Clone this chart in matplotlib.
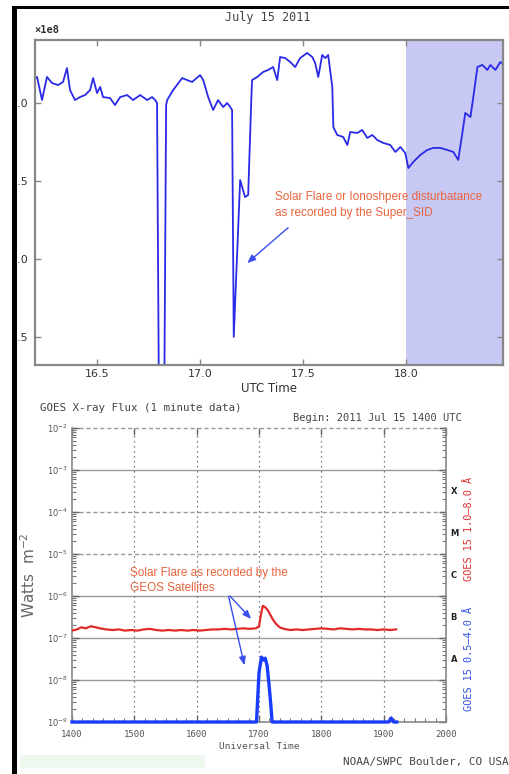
import numpy as np
import matplotlib
matplotlib.use("Agg")
import matplotlib.pyplot as plt
from matplotlib.patches import Rectangle
from matplotlib.ticker import LogLocator, NullFormatter, MultipleLocator

# ---------------- data: Super_SID signal (x 1e8) ----------------
sid_time = [16.200, 16.210, 16.234, 16.258, 16.283, 16.312, 16.336, 16.355, 16.370, 16.394,
            16.418, 16.443, 16.467, 16.482, 16.501, 16.516, 16.530, 16.564, 16.588, 16.613,
            16.647, 16.676, 16.710, 16.744, 16.768, 16.783, 16.792, 16.802, 16.826, 16.836,
            16.841, 16.870, 16.914, 16.938, 16.962, 17.001, 17.016, 17.040, 17.064, 17.088,
            17.098, 17.113, 17.132, 17.147, 17.156, 17.164, 17.195, 17.219, 17.234, 17.249,
            17.253, 17.278, 17.307, 17.331, 17.355, 17.375, 17.389, 17.414, 17.438, 17.462,
            17.486, 17.520, 17.545, 17.559, 17.574, 17.593, 17.608, 17.622, 17.642, 17.647,
            17.666, 17.695, 17.715, 17.729, 17.763, 17.787, 17.812, 17.836, 17.860, 17.889,
            17.923, 17.948, 17.972, 17.996, 18.011, 18.035, 18.069, 18.103, 18.132, 18.166,
            18.200, 18.229, 18.253, 18.273, 18.287, 18.312, 18.326, 18.346, 18.370, 18.394,
            18.409, 18.433, 18.457, 18.472]
sid_signal = [3.160, 3.167, 3.019, 3.167, 3.128, 3.115, 3.135, 3.224, 3.083, 3.019,
              3.038, 3.051, 3.083, 3.160, 3.064, 3.103, 3.038, 3.032, 2.987, 3.038,
              3.051, 3.019, 3.051, 3.019, 3.038, 3.019, 3.000, 0.900, 0.900, 2.987,
              3.019, 3.083, 3.160, 3.147, 3.135, 3.179, 3.147, 3.038, 2.955, 3.019,
              3.000, 2.974, 3.000, 2.974, 2.955, 1.500, 2.506, 2.397, 2.410, 3.019,
              3.147, 3.167, 3.199, 3.212, 3.231, 3.147, 3.295, 3.288, 3.263, 3.231,
              3.288, 3.321, 3.295, 3.256, 3.167, 3.308, 3.288, 3.308, 3.103, 2.846,
              2.795, 2.782, 2.731, 2.814, 2.808, 2.827, 2.776, 2.795, 2.763, 2.744,
              2.731, 2.686, 2.718, 2.679, 2.583, 2.622, 2.667, 2.699, 2.712, 2.712,
              2.699, 2.686, 2.635, 2.808, 2.936, 2.910, 3.038, 3.231, 3.244, 3.212,
              3.244, 3.212, 3.263, 3.244]
sid_xticks = [16.5, 17.0, 17.5, 18.0]
sid_yticks = [1.5, 2.0, 2.5, 3.0]
night_start = 18.0

# ---------------- data: GOES X-ray flux ----------------
long_time = [14.00, 14.08, 14.15, 14.22, 14.30, 14.38, 14.45, 14.55, 14.65, 14.75,
             14.85, 14.95, 15.05, 15.15, 15.25, 15.35, 15.45, 15.55, 15.65, 15.75,
             15.85, 15.95, 16.05, 16.15, 16.25, 16.35, 16.45, 16.55, 16.65, 16.75,
             16.85, 16.95, 17.00, 17.03, 17.06, 17.10, 17.14, 17.18, 17.22, 17.27,
             17.33, 17.40, 17.50, 17.60, 17.70, 17.80, 17.90, 18.00, 18.10, 18.20,
             18.30, 18.40, 18.50, 18.60, 18.70, 18.80, 18.90, 19.00, 19.10, 19.20]
long_flux = [1.5e-7, 1.6e-7, 1.8e-7, 1.7e-7, 1.9e-7, 1.8e-7, 1.7e-7, 1.6e-7, 1.55e-7, 1.6e-7,
             1.5e-7, 1.55e-7, 1.5e-7, 1.6e-7, 1.65e-7, 1.55e-7, 1.5e-7, 1.55e-7, 1.5e-7, 1.55e-7,
             1.5e-7, 1.55e-7, 1.5e-7, 1.55e-7, 1.6e-7, 1.6e-7, 1.65e-7, 1.6e-7, 1.65e-7, 1.7e-7,
             1.65e-7, 1.7e-7, 1.9e-7, 3.5e-7, 5.8e-7, 5.4e-7, 4.6e-7, 3.6e-7, 2.8e-7, 2.2e-7,
             1.8e-7, 1.65e-7, 1.55e-7, 1.6e-7, 1.55e-7, 1.6e-7, 1.65e-7, 1.7e-7, 1.65e-7, 1.6e-7,
             1.7e-7, 1.65e-7, 1.6e-7, 1.65e-7, 1.6e-7, 1.6e-7, 1.55e-7, 1.6e-7, 1.55e-7, 1.6e-7]
short_time = [14.00, 15.00, 16.00, 16.96, 17.00, 17.04, 17.07, 17.10, 17.13, 17.16,
              17.19, 17.21, 18.00, 19.08, 19.12, 19.16, 19.21]
short_flux = [1e-9, 1e-9, 1e-9, 1e-9, 1.5e-8, 3.5e-8, 3.0e-8, 3.3e-8, 2.2e-8, 8e-9,
              2.5e-9, 1e-9, 1e-9, 1e-9, 1.25e-9, 1e-9, 1e-9]
goes_hours = [14, 15, 16, 17, 18, 19, 20]
goes_hour_labels = ["1400", "1500", "1600", "1700", "1800", "1900", "2000"]
solid_levels = [1e-3, 1e-6, 1e-7, 1e-8]
dashed_levels = [1e-2, 1e-4, 1e-5]
class_letters = ["X", "M", "C", "B", "A"]
class_centers = [10**-3.5, 10**-4.5, 10**-5.5, 10**-6.5, 10**-7.5]

W, H = 509, 774
def fx(x):
    return x / W
def fy(y):
    return 1 - y / H

fig = plt.figure(figsize=(W / 100, H / 100), dpi=100)
fig.patch.set_facecolor("white")

MONO = "DejaVu Sans Mono"
ARIAL = ["Liberation Sans", "DejaVu Sans"]

# ================= top panel =================
ax1 = fig.add_axes([fx(35), fy(365), fx(503) - fx(35), fy(40) - fy(365)])
ax1.axvspan(night_start, 18.47, color="#c8c8f5", lw=0, zorder=0)
ax1.plot(sid_time, sid_signal, color="#2a2ae6", lw=1.3, zorder=2)
ax1.set_xlim(16.2, 18.47)
ax1.set_ylim(1.32, 3.404)
ax1.set_xticks(sid_xticks)
ax1.set_yticks(sid_yticks)
ax1.set_xticklabels([f"{v:.1f}" for v in sid_xticks])
ax1.set_yticklabels([f"{v:.1f}" for v in sid_yticks])
ax1.tick_params(direction="in", length=4, width=1, color="#888888",
                labelsize=8, labelcolor="#333333", top=True, right=True, pad=3)
ax1.tick_params(axis="y", pad=5)
for s in ax1.spines.values():
    s.set_color("#888888")
    s.set_linewidth(1.6)
ax1.set_xlabel("UTC Time", fontsize=8.5, color="#333333", labelpad=2)
fig.text(fx(268), fy(17), "July 15 2011", fontsize=8.5, family=MONO,
         color="#444444", ha="center", va="center")
fig.text(fx(34), fy(30), "×1e8", fontsize=7.5, family=MONO,
         color="#333333", ha="left", va="center", fontweight="bold")

fig.text(fx(275), fy(197), "Solar Flare or Ionoshpere disturbatance",
         fontsize=8.5, family=ARIAL, color="#e8643c", ha="left", va="center")
fig.text(fx(275), fy(213), "as recorded by the Super_SID",
         fontsize=8.5, family=ARIAL, color="#e8643c", ha="left", va="center")
ax1.annotate("", xy=(17.219, 1.962), xytext=(17.438, 2.212),
             arrowprops=dict(arrowstyle="-|>,head_length=0.5,head_width=0.2",
                             color="#3a4ef0", lw=1.0))

# ================= bottom panel =================
ax2 = fig.add_axes([fx(72), fy(722), fx(446) - fx(72), fy(428) - fy(722)])
ax2.set_yscale("log")
ax2.set_xlim(14, 20)
ax2.set_ylim(1e-9, 1e-2)
for lv in solid_levels:
    ax2.axhline(lv, color="#9a9a9a", lw=1.0, zorder=1)
for lv in dashed_levels:
    ax2.axhline(lv, color="#9a9a9a", lw=1.0, ls=(0, (3, 2)), zorder=1, clip_on=False)
for h in goes_hours[1:-1]:
    ax2.axvline(h, color="#555555", lw=0.9, ls=(0, (1, 3)), zorder=1)

ax2.plot(long_time, long_flux, color="#e02a2a", lw=1.6, zorder=3)
ax2.plot(short_time, short_flux, color="#1a3cff", lw=2.4, zorder=3, clip_on=False)

ax2.set_xticks(goes_hours)
ax2.set_xticklabels(goes_hour_labels, family=MONO)
ax2.xaxis.set_minor_locator(MultipleLocator(1 / 6))
ax2.yaxis.set_major_locator(LogLocator(base=10, numticks=12))
ax2.yaxis.set_minor_locator(LogLocator(base=10, subs=np.arange(2, 10), numticks=12))
ax2.yaxis.set_minor_formatter(NullFormatter())
ax2.tick_params(which="major", direction="in", length=5, width=1, color="#666666",
                labelsize=6.5, labelcolor="#555555", right=True, top=True, pad=3)
ax2.tick_params(axis="y", which="major", labelsize=6)
ax2.tick_params(axis="x", which="major", pad=6)
ax2.tick_params(which="minor", direction="in", length=3, width=0.8, color="#777777",
                right=True, top=False)
ax2.spines["top"].set_visible(False)
for k in ["left", "right", "bottom"]:
    ax2.spines[k].set_color("#888888")
    ax2.spines[k].set_linewidth(1.2)
ax2.set_xlabel("Universal Time", fontsize=6.8, family=MONO, color="#555555", labelpad=2)
ax2.set_ylabel("Watts  m$^{-2}$", fontsize=11, color="#666666", labelpad=6)

for letter, yc in zip(class_letters, class_centers):
    ax2.text(1.012, yc, letter, transform=ax2.get_yaxis_transform(), fontsize=6,
             color="#222222", ha="left", va="center", fontweight="bold")

fig.text(fx(40), fy(408), "GOES X-ray Flux (1 minute data)", fontsize=7.8,
         family=MONO, color="#444444", ha="left", va="center")
fig.text(fx(293), fy(418), "Begin: 2011 Jul 15 1400 UTC", fontsize=7.5,
         family=MONO, color="#444444", ha="left", va="center")
fig.text(fx(469), fy(529), "GOES 15 1.0\u20138.0 \u00c5", fontsize=7.4, family=MONO,
         color="#e03030", rotation=90, ha="center", va="center")
fig.text(fx(469), fy(659), "GOES 15 0.5\u20134.0 \u00c5", fontsize=7.4, family=MONO,
         color="#3050e0", rotation=90, ha="center", va="center")
fig.text(fx(343), fy(762), "NOAA/SWPC Boulder, CO USA", fontsize=7.9,
         family=MONO, color="#444444", ha="left", va="center")

fig.text(fx(130), fy(573), "Solar Flare as recorded by the", fontsize=8.5,
         family=ARIAL, color="#e8643c", ha="left", va="center")
fig.text(fx(130), fy(588), "GEOS Satellites", fontsize=8.5,
         family=ARIAL, color="#e8643c", ha="left", va="center")
arrow_kw = dict(arrowstyle="-|>,head_length=0.5,head_width=0.2", color="#3a4ef0", lw=1.0)
ax2.annotate("", xy=(16.904, 2.54e-7), xytext=(16.503, 1.12e-6), arrowprops=arrow_kw)
ax2.annotate("", xy=(16.776, 1.93e-8), xytext=(16.503, 1.12e-6), arrowprops=arrow_kw)

# ================= frame decorations =================
fig.patches.append(Rectangle((fx(20), fy(768)), fx(205) - fx(20), fy(755) - fy(768),
                             transform=fig.transFigure, facecolor="#eef8ee",
                             edgecolor="none", zorder=5))
fig.patches.append(Rectangle((fx(12), 0), fx(17) - fx(12), fy(6),
                             transform=fig.transFigure, facecolor="black",
                             edgecolor="none", zorder=10))
fig.patches.append(Rectangle((fx(12), fy(9)), 1 - fx(12), fy(6) - fy(9),
                             transform=fig.transFigure, facecolor="black",
                             edgecolor="none", zorder=10))

fig.savefig("out.png", dpi=100)
